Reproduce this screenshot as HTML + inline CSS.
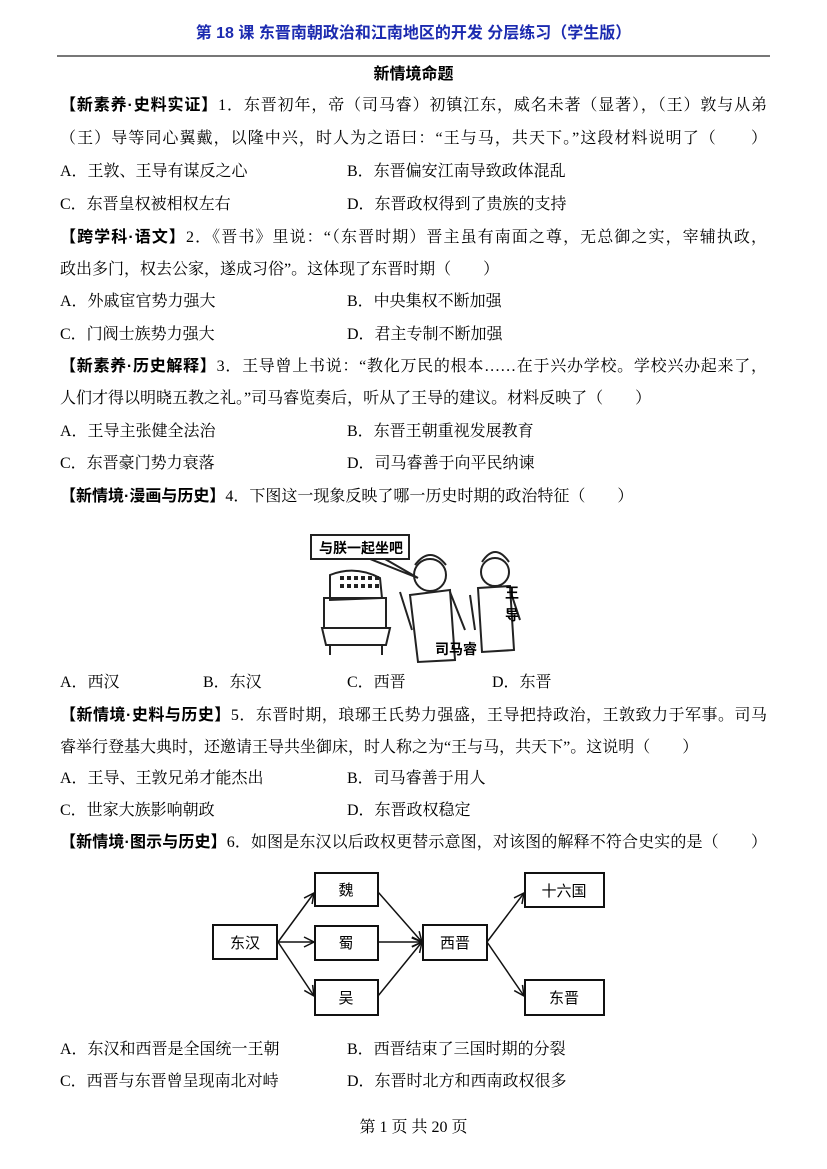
<!DOCTYPE html>
<html><head><meta charset="utf-8"><style>
body{margin:0;background:#fff;}
#p{position:relative;width:827px;height:1169px;overflow:hidden;font-family:"Liberation Serif","Noto Serif CJK SC","Noto Sans CJK SC",serif;font-size:16px;color:#000;}
.l{position:absolute;white-space:nowrap;line-height:20px;}
.f{left:60px;width:707px;text-align:justify;text-align-last:justify;}
b{font-family:"Liberation Sans","Noto Sans CJK SC",sans-serif;font-weight:bold;}
</style></head><body><div id="p">
<div class="l" style="left:0;width:827px;text-align:center;top:24px;color:#1c2bb0;"><b>第 18 课 东晋南朝政治和江南地区的开发 分层练习（学生版）</b></div>
<div style="position:absolute;left:57px;width:713px;top:55px;height:2px;background:#777;"></div>
<div class="l" style="left:0;width:827px;text-align:center;top:65px;"><b>新情境命题</b></div>

<div class="l f" style="top:96px;"><b>【新素养·史料实证】</b>1．东晋初年，帝（司马睿）初镇江东，威名未著（显著），（王）敦与从弟</div>
<div class="l f" style="top:129px;">（王）导等同心翼戴，以隆中兴，时人为之语曰：“王与马，共天下。”这段材料说明了（　　）</div>
<div class="l" style="left:60px;top:162px;">A．王敦、王导有谋反之心</div>
<div class="l" style="left:347px;top:162px;">B．东晋偏安江南导致政体混乱</div>
<div class="l" style="left:60px;top:195px;">C．东晋皇权被相权左右</div>
<div class="l" style="left:347px;top:195px;">D．东晋政权得到了贵族的支持</div>
<div class="l f" style="top:228px;"><b>【跨学科·语文】</b>2．《晋书》里说：“（东晋时期）晋主虽有南面之尊，无总御之实，宰辅执政，</div>
<div class="l" style="left:60px;top:260px;">政出多门，权去公家，遂成习俗”。这体现了东晋时期（　　）</div>
<div class="l" style="left:60px;top:292px;">A．外戚宦官势力强大</div>
<div class="l" style="left:347px;top:292px;">B．中央集权不断加强</div>
<div class="l" style="left:60px;top:325px;">C．门阀士族势力强大</div>
<div class="l" style="left:347px;top:325px;">D．君主专制不断加强</div>
<div class="l f" style="top:357px;"><b>【新素养·历史解释】</b>3．王导曾上书说：“教化万民的根本……在于兴办学校。学校兴办起来了，</div>
<div class="l" style="left:60px;top:389px;">人们才得以明晓五教之礼。”司马睿览奏后，听从了王导的建议。材料反映了（　　）</div>
<div class="l" style="left:60px;top:422px;">A．王导主张健全法治</div>
<div class="l" style="left:347px;top:422px;">B．东晋王朝重视发展教育</div>
<div class="l" style="left:60px;top:454px;">C．东晋豪门势力衰落</div>
<div class="l" style="left:347px;top:454px;">D．司马睿善于向平民纳谏</div>
<div class="l" style="left:60px;top:487px;"><b>【新情境·漫画与历史】</b>4．下图这一现象反映了哪一历史时期的政治特征（　　）</div>

<svg style="position:absolute;left:300px;top:520px;" width="240" height="145" viewBox="0 0 240 145">
<g fill="none" stroke="#222" stroke-width="2">
<rect x="11" y="15" width="98" height="24"/>
<path d="M70 39 L118 58 M85 39 L118 58"/>
<path d="M30 55 Q55 45 80 58 L82 78 L30 80 Z"/>
<rect x="24" y="78" width="62" height="30"/>
<path d="M22 108 L90 108 L86 125 L26 125 Z"/>
<path d="M30 125 L30 135 M82 125 L82 135"/>
<circle cx="130" cy="55" r="16"/>
<path d="M115 45 Q130 25 146 45"/>
<path d="M110 75 L150 70 L155 140 L118 142 Z"/>
<path d="M100 72 L112 110 M150 72 L165 110"/>
<circle cx="195" cy="52" r="14"/>
<path d="M182 42 Q195 22 209 42"/>
<path d="M178 68 L210 66 L214 130 L182 132 Z"/>
<path d="M170 75 L175 110 M210 70 L220 100"/>
<path d="M40 58 h40 M40 66 h40" stroke-width="4" stroke-dasharray="4 3"/>
</g>
<text x="19" y="33" font-size="14" font-weight="bold" font-family="Noto Sans CJK SC,sans-serif">与朕一起坐吧</text>
<text x="205" y="78" font-size="14" font-weight="bold" font-family="Noto Sans CJK SC,sans-serif">王</text>
<text x="205" y="100" font-size="14" font-weight="bold" font-family="Noto Sans CJK SC,sans-serif">导</text>
<text x="135" y="134" font-size="14" font-weight="bold" font-family="Noto Sans CJK SC,sans-serif">司马睿</text>
</svg>

<div class="l" style="left:60px;top:673px;">A．西汉</div>
<div class="l" style="left:203px;top:673px;">B．东汉</div>
<div class="l" style="left:347px;top:673px;">C．西晋</div>
<div class="l" style="left:492px;top:673px;">D．东晋</div>
<div class="l f" style="top:706px;"><b>【新情境·史料与历史】</b>5．东晋时期，琅琊王氏势力强盛，王导把持政治，王敦致力于军事。司马</div>
<div class="l" style="left:60px;top:738px;">睿举行登基大典时，还邀请王导共坐御床，时人称之为“王与马，共天下”。这说明（　　）</div>
<div class="l" style="left:60px;top:769px;">A．王导、王敦兄弟才能杰出</div>
<div class="l" style="left:347px;top:769px;">B．司马睿善于用人</div>
<div class="l" style="left:60px;top:801px;">C．世家大族影响朝政</div>
<div class="l" style="left:347px;top:801px;">D．东晋政权稳定</div>
<div class="l f" style="top:833px;"><b>【新情境·图示与历史】</b>6．如图是东汉以后政权更替示意图，对该图的解释不符合史实的是（　　）</div>

<svg style="position:absolute;left:0;top:0;" width="827" height="1169">
<defs><marker id="a" markerWidth="12" markerHeight="12" refX="11" refY="6" orient="auto" markerUnits="userSpaceOnUse"><path d="M1 1 L11 6 L1 11" fill="none" stroke="#111" stroke-width="1.5"/></marker></defs>
<g fill="#fff" stroke="#111" stroke-width="2">
<rect x="213" y="925" width="64" height="34"/>
<rect x="315" y="873" width="63" height="33"/>
<rect x="315" y="926" width="63" height="34"/>
<rect x="315" y="980" width="63" height="35"/>
<rect x="423" y="925" width="64" height="35"/>
<rect x="525" y="873" width="79" height="34"/>
<rect x="525" y="980" width="79" height="35"/>
</g>
<g stroke="#111" stroke-width="1.5" marker-end="url(#a)">
<line x1="278" y1="942" x2="314" y2="893"/>
<line x1="278" y1="942" x2="314" y2="942"/>
<line x1="278" y1="942" x2="314" y2="996"/>
<line x1="378" y1="892" x2="422" y2="942"/>
<line x1="378" y1="942" x2="422" y2="942"/>
<line x1="378" y1="996" x2="422" y2="942"/>
<line x1="487" y1="942" x2="524" y2="893"/>
<line x1="487" y1="942" x2="524" y2="996"/>
</g>
<g font-size="15" font-family="Noto Sans CJK SC,sans-serif" text-anchor="middle">
<text x="245" y="948">东汉</text>
<text x="346" y="895">魏</text>
<text x="346" y="948">蜀</text>
<text x="346" y="1003">吴</text>
<text x="455" y="948">西晋</text>
<text x="564" y="896">十六国</text>
<text x="564" y="1003">东晋</text>
</g>
</svg>

<div class="l" style="left:60px;top:1040px;">A．东汉和西晋是全国统一王朝</div>
<div class="l" style="left:347px;top:1040px;">B．西晋结束了三国时期的分裂</div>
<div class="l" style="left:60px;top:1072px;">C．西晋与东晋曾呈现南北对峙</div>
<div class="l" style="left:347px;top:1072px;">D．东晋时北方和西南政权很多</div>
<div class="l" style="left:0;width:827px;text-align:center;top:1118px;">第 1 页 共 20 页</div>
</div></body></html>
